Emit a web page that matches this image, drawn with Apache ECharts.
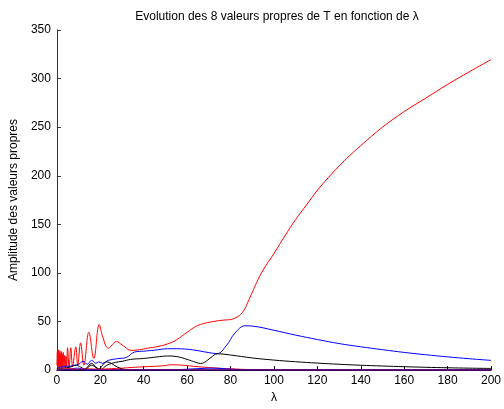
<!DOCTYPE html>
<html>
<head>
<meta charset="utf-8" />
<title>Valeurs propres</title>
<script src="https://cdn.jsdelivr.net/npm/echarts@6.0.0/dist/echarts.min.js"></script>
</head>
<body style="margin:0">
<div id="main" style="width:504px;height:409px;"></div>
<script type="text/javascript">
// valeurs : [lambda, amplitude]
var red1 = [[0,5],[0.2,19],[0.4,2],[0.6,21],[0.8,3],[1.0,18],[1.2,2],[1.4,20],[1.6,3],[1.8,17],
  [2.0,2],[2.2,19],[2.4,3],[2.6,16],[2.8,2],[3.0,18],[3.3,3],[3.6,15],[3.9,2],[4.2,14],[4.5,3],
  [4.9,23],[5.6,3],[6.4,23],[7.2,4],[8.7,24],[9.6,5],[10.9,28],[12.4,5],[14.7,39],[17,12],
  [19.5,47],[21,35],[23.7,22.6],[27.5,29.4],[30,26],[34.3,20.3],[38,21],[41.9,22.6],[46,24],
  [51,27],[55,31],[60,39],[64,45],[67,47.5],[72,50],[77,51.5],[80,52],[82,53.5],[84,56],
  [86,61],[88,70],[90,80],[92,90],[95,103],[100,120],[105,138],[110,155],[115,170],[120,185],
  [125,198],[130,210],[135,221],[140,231],[150,250],[160,266],[170,280],[180,294],[190,307],[200,319.5]];
var blue1 = [[0,2],[2,3],[4,4],[6,4],[8,5],[10,6],[12,9],[14,6],[16,10],[18,7],[19.1,8.5],[21,7],
  [23.7,10],[28,11.8],[32,13],[35.8,18.6],[40,19.5],[45,20.5],[51,22],[55,22],[60,21.5],[65,20],
  [70,18],[73.8,17],[78,25],[82,38],[86.7,45.6],[90,45.3],[100,41],[110,36],[120,31.5],[130,27.3],
  [140,24],[150,21],[160,18.2],[170,15.8],[180,13.6],[190,11.7],[200,10]];
var black1 = [[0,1],[3,2],[6,3],[9,5],[11,3],[13,1],[16,5],[18,3],[20,0.5],[23,5],[27,8],[30,9],
  [34,11],[40,12],[46,13.5],[51,14.5],[55,14],[60,11],[64,8],[66.2,6.8],[68,8],[71,13],[74,16.8],
  [80,15.5],[90,12.5],[100,10.3],[110,8.6],[120,7.2],[130,6],[140,5],[150,4.2],[160,3.5],
  [170,2.9],[180,2.4],[190,2],[200,1.7]];
var red2 = [[0,0],[10,0.5],[20,1],[25,1.5],[30,2],[35,2.8],[40,3.4],[48.7,4.4],[53,5.5],[58,5],
  [65,3.5],[71.5,2.4],[78,1.5],[86.7,0.7],[95,0.3],[110,0.1],[200,0]];
var blue2 = [[0,0.3],[5,1],[10,2],[13,0.5],[20,0.4],[40,0.3],[55,0.5],[65,1.5],[72,2],[80,1],
  [90,0.3],[200,0.2]];
var black2 = [[0,0],[10,0.2],[13,1],[16,7],[19,1],[23,8.5],[28,3],[32,0.5],[40,0.2],[200,0.1]];
var red3 = [[0,0.5],[5,1.5],[10,0.8],[15,1.2],[20,0.6],[30,0.3],[60,0.2],[200,0.1]];
var blue3 = [[0,0],[50,0],[100,0],[150,0],[200,0]];

var xTicks = [0, 200, 20];
var yTicks = [0, 350, 50];

var curves = [
  { d: red1, c: '#ff0000' }, { d: blue1, c: '#0000ff' }, { d: black1, c: '#000000' },
  { d: red2, c: '#ff0000' }, { d: blue2, c: '#0000ff' }, { d: black2, c: '#000000' },
  { d: red3, c: '#ff0000' }, { d: blue3, c: '#0000ff' }
];

var myChart = echarts.init(document.getElementById('main'));
var font = 'Liberation Sans, Arial, Helvetica, sans-serif';

option = {
  animation: false,
  title: {
    text: 'Evolution des 8 valeurs propres de T en fonction de λ',
    left: 272, top: 6, textAlign: 'center',
    textStyle: { fontFamily: font, fontSize: 12, fontWeight: 'normal', color: '#000' }
  },
  grid: { left: 53, right: 12, top: 30, bottom: 34 },
  xAxis: {
    type: 'value', min: xTicks[0], max: xTicks[1], interval: xTicks[2],
    name: 'λ', nameLocation: 'middle', nameGap: 20,
    nameTextStyle: { fontFamily: font, fontSize: 12, color: '#000' },
    axisLine: { lineStyle: { color: '#000', width: 1 } },
    axisTick: { inside: true, length: 4, lineStyle: { color: '#000' } },
    axisLabel: { fontFamily: font, fontSize: 12, color: '#000', margin: 5 },
    splitLine: { show: false }
  },
  yAxis: {
    type: 'value', min: yTicks[0], max: yTicks[1], interval: yTicks[2],
    name: 'Amplitude des valeurs propres', nameLocation: 'middle', nameGap: 31,
    nameTextStyle: { fontFamily: font, fontSize: 12, color: '#000' },
    axisLine: { show: true, lineStyle: { color: '#333', width: 1 } },
    axisTick: { show: true, inside: true, length: 4, lineStyle: { color: '#333' } },
    axisLabel: { fontFamily: font, fontSize: 12, color: '#000', margin: 6 },
    splitLine: { show: false }
  },
  series: curves.map(function (s) {
    return {
      type: 'line', data: s.d, showSymbol: false, smooth: 0.4,
      lineStyle: { color: s.c, width: 1 }, itemStyle: { color: s.c }
    };
  })
};

myChart.setOption(option);
</script>
</body>
</html>
